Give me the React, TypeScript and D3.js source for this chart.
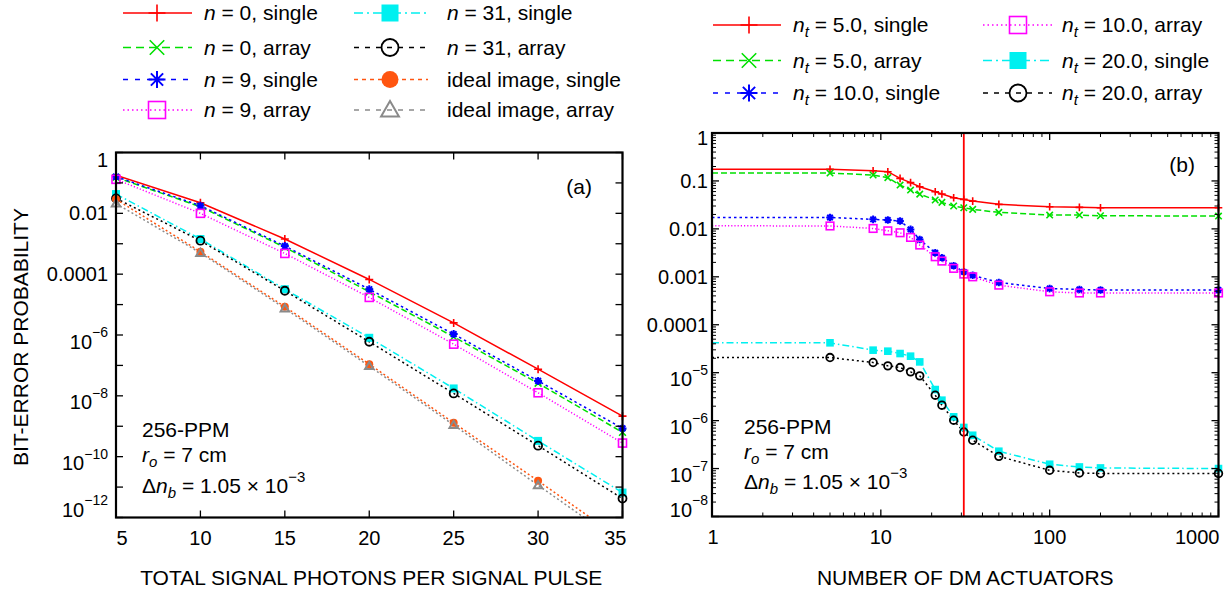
import React from 'react';
import * as d3 from 'd3';

// ---------------- DATA ----------------
const photons = [5, 10, 15, 20, 25, 30, 35];
const aN0Single = [0.18, 0.0223, 0.00143, 6.7e-5, 2.5e-6, 7.5e-8, 2.15e-9];
const aN0Array = [0.152, 0.0165, 7.6e-4, 2.64e-5, 8.7e-7, 2.6e-8, 6.3e-10];
const aN9Single = [0.16, 0.0178, 8.4e-4, 3.2e-5, 1.07e-6, 3.1e-8, 8.5e-10];
const aN9Array = [0.131, 0.01, 4.8e-4, 1.72e-5, 5.0e-7, 1.26e-8, 2.8e-10];
const aN31Single = [0.043, 1.43e-3, 3.2e-5, 8.1e-7, 1.75e-8, 3.3e-10, 6.6e-12];
const aN31Array = [0.031, 1.26e-3, 2.85e-5, 6.0e-7, 1.2e-8, 2.3e-10, 4.2e-12];
const aIdealSingle = [0.029, 5.5e-4, 8.5e-6, 1.1e-7, 1.3e-9, 1.6e-11, 1.8e-13];
const aIdealArray = [0.021, 5.0e-4, 7.5e-6, 9.5e-8, 1.1e-9, 1.15e-11, 1.3e-13];

const actuators = [1, 5, 9, 11, 13, 15, 17, 21, 23, 27, 31, 35, 50, 100, 150, 200, 1000];
const bNt5Single = [0.175, 0.175, 0.163, 0.156, 0.113, 0.092, 0.0757, 0.0595, 0.0533, 0.0447, 0.0412, 0.038, 0.0325, 0.029, 0.0281, 0.0276, 0.0276];
const bNt5Array = [0.147, 0.146, 0.133, 0.117, 0.082, 0.0645, 0.053, 0.04, 0.0357, 0.03, 0.0276, 0.0255, 0.0221, 0.0194, 0.0194, 0.0188, 0.0185];
const bNt10Single = [0.0173, 0.0173, 0.0158, 0.0153, 0.0146, 0.00976, 0.006, 0.00317, 0.0025, 0.0017, 0.00127, 0.00108, 7.6e-4, 5.7e-4, 5.45e-4, 5.3e-4, 5.3e-4];
const bNt10Array = [0.0116, 0.0115, 0.0102, 0.0091, 0.0083, 0.00664, 0.0046, 0.00262, 0.00213, 0.0015, 0.00114, 0.001, 6.7e-4, 4.87e-4, 4.6e-4, 4.6e-4, 4.6e-4];
const bNt20Single = [4.2e-5, 4.2e-5, 2.95e-5, 2.81e-5, 2.51e-5, 2.21e-5, 1.68e-5, 4.45e-6, 2.67e-6, 1.2e-6, 7.2e-7, 4.95e-7, 2.3e-7, 1.23e-7, 1.08e-7, 1.03e-7, 1.0e-7];
const bNt20Array = [2.07e-5, 2.07e-5, 1.63e-5, 1.39e-5, 1.28e-5, 1.04e-5, 8.6e-6, 3.39e-6, 2.1e-6, 1.02e-6, 5.8e-7, 3.9e-7, 1.8e-7, 9.2e-8, 8.1e-8, 7.9e-8, 7.9e-8];
const dmMarkerLine = 31;

const aXTicks = [5, 10, 15, 20, 25, 30, 35];
const aYExps = d3.range(-12, 1);
const bYExps = d3.range(-8, 1);
const bXExps = [0, 1, 2, 3];

// ---------------- STYLE ----------------
const FONT = "'Liberation Sans', Arial, Helvetica, sans-serif";
const W = 1231, H = 594;

type MarkerKind = 'plus' | 'x' | 'star' | 'square' | 'circle' | 'fsquare' | 'fcircle' | 'triangle';
interface Style { color: string; dash: string; legendDash: string; marker: MarkerKind; }

const S = {
  red: { color: '#ff0000', dash: '', legendDash: '', marker: 'plus' },
  green: { color: '#00e000', dash: '6,3', legendDash: '8,5', marker: 'x' },
  blue: { color: '#0000ff', dash: '2.5,3', legendDash: '5,7', marker: 'star' },
  magenta: { color: '#ff00ff', dash: '1.2,2', legendDash: '1.5,3', marker: 'square' },
  cyan: { color: '#00f0f0', dash: '7,3,1.5,3', legendDash: '9,4,2,4', marker: 'fsquare' },
  black: { color: '#000000', dash: '2,3', legendDash: '5,6', marker: 'circle' },
  orange: { color: '#ff5510', dash: '2,2.5', legendDash: '4,4', marker: 'fcircle' },
  gray: { color: '#8a8a8a', dash: '2,2.5', legendDash: '5,6', marker: 'triangle' },
} as Record<string, Style>;

function Marker({ kind, x, y, s, color }: { kind: MarkerKind; x: number; y: number; s: number; color: string }) {
  const sw = s > 6 ? 1.6 : 1.6;
  switch (kind) {
    case 'plus':
      return <path d={`M${x - s},${y}H${x + s}M${x},${y - s}V${y + s}`} stroke={color} strokeWidth={sw} fill="none" />;
    case 'x': {
      const k = s * 0.85;
      return <path d={`M${x - k},${y - k}L${x + k},${y + k}M${x - k},${y + k}L${x + k},${y - k}`} stroke={color} strokeWidth={sw} fill="none" />;
    }
    case 'star': {
      const k = s * 0.72;
      return <path d={`M${x - s},${y}H${x + s}M${x},${y - s}V${y + s}M${x - k},${y - k}L${x + k},${y + k}M${x - k},${y + k}L${x + k},${y - k}`} stroke={color} strokeWidth={sw + 0.4} fill="none" />;
    }
    case 'square':
      return <rect x={x - s} y={y - s} width={2 * s} height={2 * s} stroke={color} strokeWidth={sw} fill="none" />;
    case 'fsquare':
      return <rect x={x - s} y={y - s} width={2 * s} height={2 * s} fill={color} stroke="none" />;
    case 'circle':
      return <circle cx={x} cy={y} r={s} stroke={color} strokeWidth={sw + 0.2} fill="none" />;
    case 'fcircle':
      return <circle cx={x} cy={y} r={s} fill={color} stroke="none" />;
    case 'triangle':
      return <path d={`M${x},${y - s * 1.05}L${x + s * 1.05},${y + s * 0.75}L${x - s * 1.05},${y + s * 0.75}Z`} stroke={color} strokeWidth={sw + 0.4} fill="none" />;
  }
  return null;
}

interface SeriesDef { key: string; values: number[]; style: Style; }

function SeriesMarks({ xs, series, xScale, yScale, clipId, ms, skipFirst }: any) {
  const [y0] = yScale.domain();
  const line = d3.line<number>()
    .x((_, i) => xScale(xs[i]))
    .y((v) => yScale(v));
  return (
    <g>
      {series.map((s: SeriesDef) => (
        <path key={s.key + 'l'} d={line(s.values) || ''} fill="none" stroke={s.style.color}
          strokeWidth={1.5} strokeDasharray={s.style.dash || undefined} clipPath={`url(#${clipId})`} />
      ))}
      {series.map((s: SeriesDef) => (
        <g key={s.key + 'm'}>
          {s.values.map((v, i) => (skipFirst && i === 0) || v < y0 ? null : (
            <Marker key={i} kind={s.style.marker} x={xScale(xs[i])} y={yScale(v)} s={ms} color={s.style.color} />
          ))}
        </g>
      ))}
    </g>
  );
}

function PowLabel({ x, y, exp, anchor }: { x: number; y: number; exp: number; anchor: string }) {
  return (
    <text x={x} y={y} textAnchor={anchor} fontSize={20} fontFamily={FONT} fill="#000">
      <tspan>10</tspan>
      <tspan dy={-11.5} fontSize={14}>{'\u2212' + Math.abs(exp)}</tspan>
    </text>
  );
}

function LegendItem({ x0, x1, xm, xt, y, style, children }: any) {
  return (
    <g>
      <line x1={x0} x2={x1} y1={y} y2={y} stroke={style.color} strokeWidth={1.5} strokeDasharray={style.legendDash || undefined} />
      <Marker kind={style.marker} x={xm} y={y} s={8.5} color={style.color} />
      <text x={xt} y={y + 7} fontSize={21} fontFamily={FONT} fill="#000">{children}</text>
    </g>
  );
}

const It = ({ children }: any) => <tspan fontStyle="italic">{children}</tspan>;

export default function App() {
  // Panel (a)
  const ax = d3.scaleLinear().domain([5, 35]).range([116, 622.5]);
  const ay = d3.scaleLog().domain([1e-12, 1]).range([517.5, 152.5]);
  // Panel (b)
  const bx = d3.scaleLog().domain([1, 1000]).range([712, 1218.5]);
  const by = d3.scaleLog().domain([1e-8, 1]).range([516.5, 133]);

  const aSeries: SeriesDef[] = [
    { key: 'n0s', values: aN0Single, style: S.red },
    { key: 'n0a', values: aN0Array, style: S.green },
    { key: 'n9s', values: aN9Single, style: S.blue },
    { key: 'n9a', values: aN9Array, style: S.magenta },
    { key: 'n31s', values: aN31Single, style: S.cyan },
    { key: 'n31a', values: aN31Array, style: S.black },
    { key: 'is', values: aIdealSingle, style: S.orange },
    { key: 'ia', values: aIdealArray, style: S.gray },
  ];
  const bSeries: SeriesDef[] = [
    { key: 't5s', values: bNt5Single, style: S.red },
    { key: 't5a', values: bNt5Array, style: S.green },
    { key: 't10s', values: bNt10Single, style: S.blue },
    { key: 't10a', values: bNt10Array, style: S.magenta },
    { key: 't20s', values: bNt20Single, style: S.cyan },
    { key: 't20a', values: bNt20Array, style: S.black },
  ];

  const [aL, aR] = ax.range();
  const [aB, aT] = ay.range();
  const [bL, bR] = bx.range();
  const [bB, bT] = by.range();
  const TK = 7, TKm = 4;

  const decStr = (e: number) => (e === 0 ? '1' : '0.' + '0'.repeat(-e - 1) + '1');

  // panel b minor ticks
  const bXMinor: number[] = [];
  for (let e = 0; e < 3; e++) for (let m = 2; m <= 9; m++) bXMinor.push(m * Math.pow(10, e));
  const bYMinor: number[] = [];
  for (let e = -8; e < 0; e++) for (let m = 2; m <= 9; m++) bYMinor.push(m * Math.pow(10, e));

  return (
    <svg width={W} height={H} style={{ position: 'absolute', left: 0, top: 0, background: '#fff' }}>
      <defs>
        <clipPath id="clipA"><rect x={aL} y={aT} width={aR - aL} height={aB - aT} /></clipPath>
        <clipPath id="clipB"><rect x={bL} y={bT} width={bR - bL} height={bB - bT} /></clipPath>
      </defs>
      <rect x={0} y={0} width={W} height={H} fill="#fff" />

      {/* ---------- Legend (a) ---------- */}
      <g>
        <LegendItem x0={123} x1={192} xm={157} xt={204} y={13} style={S.red}><It>n</It>{' = 0, single'}</LegendItem>
        <LegendItem x0={123} x1={192} xm={157} xt={204} y={47.5} style={S.green}><It>n</It>{' = 0, array'}</LegendItem>
        <LegendItem x0={123} x1={192} xm={157} xt={204} y={79.5} style={S.blue}><It>n</It>{' = 9, single'}</LegendItem>
        <LegendItem x0={123} x1={192} xm={157} xt={204} y={110} style={S.magenta}><It>n</It>{' = 9, array'}</LegendItem>
        <LegendItem x0={354} x1={428} xm={390} xt={447} y={13} style={S.cyan}><It>n</It>{' = 31, single'}</LegendItem>
        <LegendItem x0={354} x1={428} xm={390} xt={447} y={47.5} style={S.black}><It>n</It>{' = 31, array'}</LegendItem>
        <LegendItem x0={354} x1={428} xm={390} xt={447} y={79.5} style={S.orange}>{'ideal image, single'}</LegendItem>
        <LegendItem x0={354} x1={428} xm={390} xt={447} y={110} style={S.gray}>{'ideal image, array'}</LegendItem>
      </g>

      {/* ---------- Legend (b) ---------- */}
      <g>
        {[
          { y: 25, st: S.red, t: '5.0, single', c: 0 },
          { y: 60.5, st: S.green, t: '5.0, array', c: 0 },
          { y: 93, st: S.blue, t: '10.0, single', c: 0 },
          { y: 25, st: S.magenta, t: '10.0, array', c: 1 },
          { y: 60.5, st: S.cyan, t: '20.0, single', c: 1 },
          { y: 93, st: S.black, t: '20.0, array', c: 1 },
        ].map((d, i) => (
          <LegendItem key={i}
            x0={d.c ? 983 : 713} x1={d.c ? 1052 : 781} xm={d.c ? 1018 : 749} xt={d.c ? 1062 : 793}
            y={d.y} style={d.st}>
            <It>n</It><tspan fontStyle="italic" fontSize={15} dy={5}>t</tspan><tspan dy={-5}>{' = ' + d.t}</tspan>
          </LegendItem>
        ))}
      </g>

      {/* ---------- Panel (a) ---------- */}
      <g>
        <SeriesMarks xs={photons} series={aSeries} xScale={ax} yScale={ay} clipId="clipA" ms={4} skipFirst={false} />
        {/* ticks */}
        {aYExps.map((e) => {
          const y = ay(Math.pow(10, e));
          return (
            <g key={'ay' + e}>
              <line x1={aL} x2={aL + TK} y1={y} y2={y} stroke="#000" strokeWidth={1.3} />
              <line x1={aR} x2={aR - TK} y1={y} y2={y} stroke="#000" strokeWidth={1.3} />
            </g>
          );
        })}
        {aXTicks.map((v) => {
          const x = ax(v);
          return (
            <g key={'ax' + v}>
              <line x1={x} x2={x} y1={aB} y2={aB - TK} stroke="#000" strokeWidth={1.3} />
              <line x1={x} x2={x} y1={aT} y2={aT + TK} stroke="#000" strokeWidth={1.3} />
            </g>
          );
        })}
        <rect x={aL} y={aT} width={aR - aL} height={aB - aT} fill="none" stroke="#000" strokeWidth={2.2} />
        {/* y labels */}
        {aYExps.filter((e) => e % 2 === 0).map((e) => {
          const y = ay(Math.pow(10, e));
          const lx = aL - 8;
          if (e >= -4) {
            const yy = e === 0 ? y + 14.5 : y + 7;
            return <text key={'ayl' + e} x={lx} y={yy} textAnchor="end" fontSize={20} fontFamily={FONT}>{decStr(e)}</text>;
          }
          const yy = e === -12 ? y - 1 : y + 13.5;
          return <PowLabel key={'ayl' + e} x={lx} y={yy} exp={e} anchor="end" />;
        })}
        {/* x labels */}
        {aXTicks.map((v, i) => (
          <text key={'axl' + v} x={i === 0 ? ax(v) + 0.5 : i === aXTicks.length - 1 ? ax(v) + 4 : ax(v)}
            y={aB + 27.5} fontSize={20} fontFamily={FONT}
            textAnchor={i === 0 ? 'start' : i === aXTicks.length - 1 ? 'end' : 'middle'}>{v}</text>
        ))}
        <text x={(aL + aR) / 2 + 2} y={585} textAnchor="middle" fontSize={21} fontFamily={FONT}>TOTAL SIGNAL PHOTONS PER SIGNAL PULSE</text>
        <text transform={`translate(28,${(aT + aB) / 2 + 2}) rotate(-90)`} textAnchor="middle" fontSize={21} fontFamily={FONT}>BIT-ERROR PROBABILITY</text>
        <text x={592} y={194} textAnchor="end" fontSize={21} fontFamily={FONT}>(a)</text>
        <g fontSize={21} fontFamily={FONT}>
          <text x={142} y={436.5}>256-PPM</text>
          <text x={142} y={462}><It>r</It><tspan fontStyle="italic" fontSize={15} dy={5}>o</tspan><tspan dy={-5}>{' = 7 cm'}</tspan></text>
          <text x={142} y={493}>{'\u0394'}<It>n</It><tspan fontStyle="italic" fontSize={15} dy={5}>b</tspan><tspan dy={-5}>{' = 1.05 \u00d7 10'}</tspan><tspan fontSize={15} dy={-11}>{'\u22123'}</tspan></text>
        </g>
      </g>

      {/* ---------- Panel (b) ---------- */}
      <g>
        <SeriesMarks xs={actuators} series={bSeries} xScale={bx} yScale={by} clipId="clipB" ms={3.8} skipFirst={true} />
        <line x1={bx(dmMarkerLine)} x2={bx(dmMarkerLine)} y1={bT} y2={bB} stroke="#ff0000" strokeWidth={1.8} />
        {bYExps.map((e) => {
          const y = by(Math.pow(10, e));
          return (
            <g key={'by' + e}>
              <line x1={bL} x2={bL + TK} y1={y} y2={y} stroke="#000" strokeWidth={1.3} />
              <line x1={bR} x2={bR - TK} y1={y} y2={y} stroke="#000" strokeWidth={1.3} />
            </g>
          );
        })}
        {bYMinor.map((v, i) => {
          const y = by(v);
          return (
            <g key={'bym' + i}>
              <line x1={bL} x2={bL + TKm} y1={y} y2={y} stroke="#000" strokeWidth={1} />
              <line x1={bR} x2={bR - TKm} y1={y} y2={y} stroke="#000" strokeWidth={1} />
            </g>
          );
        })}
        {bXExps.map((e) => {
          const x = bx(Math.pow(10, e));
          return (
            <g key={'bx' + e}>
              <line x1={x} x2={x} y1={bB} y2={bB - TK} stroke="#000" strokeWidth={1.3} />
              <line x1={x} x2={x} y1={bT} y2={bT + TK} stroke="#000" strokeWidth={1.3} />
            </g>
          );
        })}
        {bXMinor.map((v, i) => {
          const x = bx(v);
          return (
            <g key={'bxm' + i}>
              <line x1={x} x2={x} y1={bB} y2={bB - TKm} stroke="#000" strokeWidth={1} />
              <line x1={x} x2={x} y1={bT} y2={bT + TKm} stroke="#000" strokeWidth={1} />
            </g>
          );
        })}
        <rect x={bL} y={bT} width={bR - bL} height={bB - bT} fill="none" stroke="#000" strokeWidth={2.2} />
        {bYExps.map((e) => {
          const y = by(Math.pow(10, e));
          const lx = bL - 4;
          if (e >= -4) {
            const yy = e === 0 ? y + 12 : y + 7;
            return <text key={'byl' + e} x={lx} y={yy} textAnchor="end" fontSize={20} fontFamily={FONT}>{decStr(e)}</text>;
          }
          const yy = e === -8 ? y : y + 13.5;
          return <PowLabel key={'byl' + e} x={lx} y={yy} exp={e} anchor="end" />;
        })}
        {bXExps.map((e, i) => (
          <text key={'bxl' + e} x={i === bXExps.length - 1 ? bR + 1 : bx(Math.pow(10, e)) + (i === 0 ? 1 : 0)} y={bB + 27.5}
            fontSize={20} fontFamily={FONT} textAnchor={i === bXExps.length - 1 ? 'end' : 'middle'}>{String(Math.pow(10, e))}</text>
        ))}
        <text x={(bL + bR) / 2} y={585} textAnchor="middle" fontSize={21} fontFamily={FONT}>NUMBER OF DM ACTUATORS</text>
        <text x={1195} y={172} textAnchor="end" fontSize={21} fontFamily={FONT}>(b)</text>
        <g fontSize={21} fontFamily={FONT}>
          <text x={744} y={433.5}>256-PPM</text>
          <text x={744} y={459}><It>r</It><tspan fontStyle="italic" fontSize={15} dy={5}>o</tspan><tspan dy={-5}>{' = 7 cm'}</tspan></text>
          <text x={744} y={488.5}>{'\u0394'}<It>n</It><tspan fontStyle="italic" fontSize={15} dy={5}>b</tspan><tspan dy={-5}>{' = 1.05 \u00d7 10'}</tspan><tspan fontSize={15} dy={-11}>{'\u22123'}</tspan></text>
        </g>
      </g>
    </svg>
  );
}
